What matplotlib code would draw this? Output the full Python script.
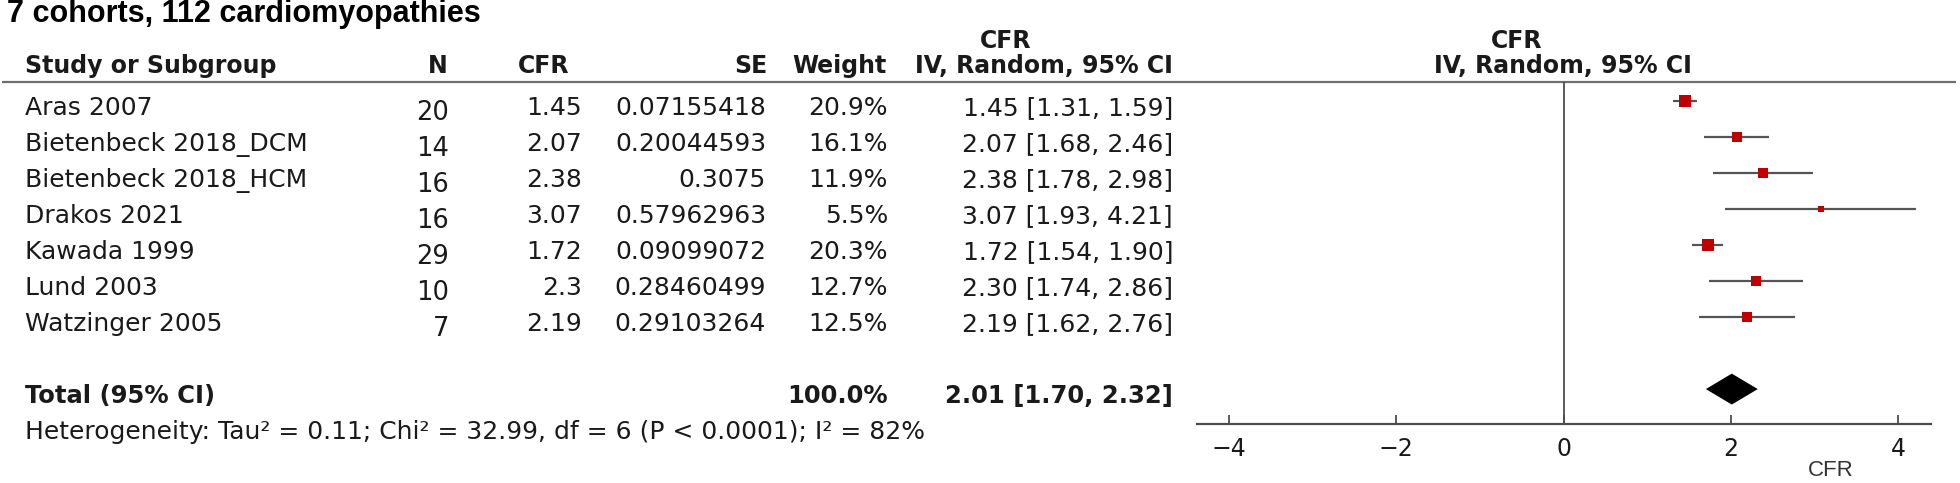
import matplotlib
matplotlib.use("Agg")
import matplotlib.pyplot as plt
import matplotlib.transforms as mtransforms
import numpy as np

# ---------------- data ----------------
title = "7 cohorts, 112 cardiomyopathies"
studies = ["Aras 2007", "Bietenbeck 2018_DCM", "Bietenbeck 2018_HCM", "Drakos 2021",
           "Kawada 1999", "Lund 2003", "Watzinger 2005"]
n_vals = [20, 14, 16, 16, 29, 10, 7]
cfr_text = ["1.45", "2.07", "2.38", "3.07", "1.72", "2.3", "2.19"]
se_text = ["0.07155418", "0.20044593", "0.3075", "0.57962963", "0.09099072",
           "0.28460499", "0.29103264"]
weights = [20.9, 16.1, 11.9, 5.5, 20.3, 12.7, 12.5]
est = [1.45, 2.07, 2.38, 3.07, 1.72, 2.30, 2.19]
ci_low = [1.31, 1.68, 1.78, 1.93, 1.54, 1.74, 1.62]
ci_high = [1.59, 2.46, 2.98, 4.21, 1.90, 2.86, 2.76]
total_label = "Total (95% CI)"
total_weight = 100.0
total_est, total_low, total_high = 2.01, 1.70, 2.32
heterogeneity = "Heterogeneity: Tau² = 0.11; Chi² = 32.99, df = 6 (P < 0.0001); I² = 82%"
x_ticks = [-4, -2, 0, 2, 4]
x_label = "CFR"

# ---------------- layout ----------------
W, H = 1960, 483
fig = plt.figure(figsize=(W / 100, H / 100), dpi=100)
fig.patch.set_facecolor("white")

over = fig.add_axes([0, 0, 1, 1])
over.set_xlim(0, W)
over.set_ylim(H, 0)
over.axis("off")

ax_left, ax_right, ax_top, ax_bot = 1197, 1931, 82, 424
ax = fig.add_axes([ax_left / W, (H - ax_bot) / H, (ax_right - ax_left) / W, (ax_bot - ax_top) / H])
ax.patch.set_visible(False)
ax.set_xlim(-4.38, 4.39)
ax.set_ylim(8.97, -0.53)

TXT = "#1a1a1a"
LINE = "#555555"
body_fs = 18
head_fs = 17
font = "DejaVu Sans"

# forest axis styling
for s in ["top", "left", "right"]:
    ax.spines[s].set_visible(False)
ax.spines["bottom"].set_color("#4d4d4d")
ax.spines["bottom"].set_linewidth(1.6)
ax.set_yticks([])
ax.set_xticks(x_ticks)
ax.tick_params(axis="x", direction="in", length=6.5, width=1.3, color="#4d4d4d",
               labelsize=17, pad=9, labelcolor=TXT)
for lab in ax.get_xticklabels():
    lab.set_fontfamily(font)

rows = np.arange(len(studies))
total_row = len(studies) + 1
het_row = total_row + 1

ax.axvline(0, color="#4d4d4d", lw=1.3, zorder=1)
ax.hlines(rows, ci_low, ci_high, color=LINE, lw=1.6, zorder=2)
for r, e, w in zip(rows, est, weights):
    ax.plot([e], [r], marker="s", ms=1.9 * np.sqrt(w), color="#c00000",
            mec="#c00000", mew=0, zorder=3)
dh = 0.43
ax.fill([total_low, total_est, total_high, total_est],
        [total_row, total_row - dh, total_row, total_row + dh], color="black", lw=0, zorder=3)

# header line
over.plot([2, 1956], [82, 82], color="#6e6e6e", lw=1.6, solid_capstyle="butt")

# title
over.text(7, 22, title, fontfamily="Liberation Sans", fontweight="bold", fontsize=22,
          va="baseline", ha="left", color="black")

# headers
hb = dict(fontfamily=font, fontweight="bold", fontsize=head_fs, va="baseline", color=TXT)
over.text(25, 73, "Study or Subgroup", ha="left", **hb)
over.text(438, 73, "N", ha="center", **hb)
over.text(518, 73, "CFR", ha="left", **hb)
over.text(767, 73, "SE", ha="right", **hb)
over.text(887, 73, "Weight", ha="right", **hb)
over.text(1006, 48, "CFR", ha="center", **hb)
over.text(1173, 73, "IV, Random, 95% CI", ha="right", **hb)
over.text(1517, 48, "CFR", ha="center", **hb)
over.text(1563, 73, "IV, Random, 95% CI", ha="center", **hb)

# table rows (y from forest axes rows)
row_tr = mtransforms.blended_transform_factory(over.transData, ax.transData)


def row_text(x, row, s, dy_px=14, **kw):
    tr = mtransforms.offset_copy(row_tr, fig=fig, x=0, y=-dy_px * 72 / 100, units="points")
    base = dict(fontfamily=font, fontsize=body_fs, va="baseline", color=TXT)
    base.update(kw)
    over.text(x, row, s, transform=tr, **base)


for r, name, n, c, se, w, e, lo, hi in zip(rows, studies, n_vals, cfr_text, se_text,
                                           weights, est, ci_low, ci_high):
    row_text(25, r, name, ha="left")
    row_text(449, r, str(n), dy_px=19, ha="right", fontsize=18.5)
    row_text(582, r, c, ha="right")
    row_text(766, r, se, ha="right")
    row_text(888, r, f"{w:.1f}%", ha="right")
    row_text(1173, r, f"{e:.2f} [{lo:.2f}, {hi:.2f}]", ha="right")

row_text(25, total_row, total_label, ha="left", fontweight="bold", fontsize=17.5)
row_text(888, total_row, f"{total_weight:.1f}%", ha="right", fontweight="bold", fontsize=17.5)
row_text(1173, total_row, f"{total_est:.2f} [{total_low:.2f}, {total_high:.2f}]",
         ha="right", fontweight="bold", fontsize=17.5)
row_text(25, het_row, heterogeneity, ha="left")

# x label
over.text(1831, 476, x_label, fontfamily="Liberation Sans", fontsize=16, ha="center",
          va="baseline", color="#333333")

fig.savefig("out.png", dpi=100, facecolor="white")
